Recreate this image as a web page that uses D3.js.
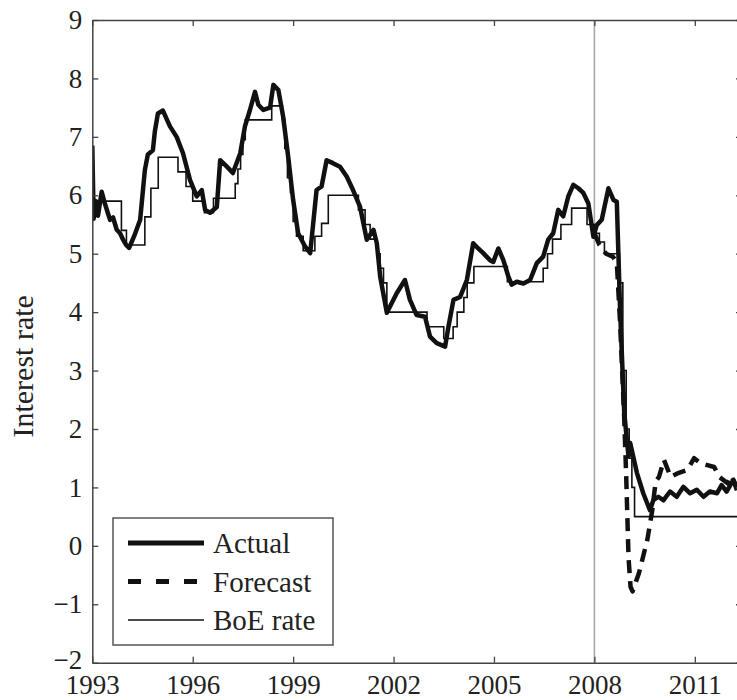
<!DOCTYPE html>
<html>
<head>
<meta charset="utf-8">
<script src="https://cdn.jsdelivr.net/npm/d3@7"></script>
<style>
html,body{margin:0;padding:0;background:#fff;overflow:hidden;}
svg{display:block;}
</style>
</head>
<body>
<svg id="chart" width="737" height="700"></svg>
<script>
// ---- data ----
const xTickYears = [1993, 1996, 1999, 2002, 2005, 2008, 2011];
const yTickValues = [-2, -1, 0, 1, 2, 3, 4, 5, 6, 7, 8, 9];
const seriesNames = ["Actual", "Forecast", "BoE rate"];

const actualDates = [1993.00,1993.04,1993.11,1993.17,1993.28,1993.38,1993.53,1993.62,1993.73,1993.83,1993.92,1994.01,1994.10,1994.25,1994.43,1994.57,1994.66,1994.81,1994.87,1994.96,1995.11,1995.32,1995.52,1995.71,1995.92,1996.12,1996.27,1996.37,1996.52,1996.72,1996.82,1997.02,1997.20,1997.42,1997.56,1997.71,1997.86,1997.96,1998.11,1998.31,1998.41,1998.56,1998.70,1998.85,1999.00,1999.15,1999.36,1999.51,1999.60,1999.70,1999.85,2000.00,2000.19,2000.40,2000.60,2000.79,2001.00,2001.20,2001.40,2001.50,2001.60,2001.80,2002.09,2002.34,2002.49,2002.69,2002.94,2003.09,2003.29,2003.54,2003.64,2003.79,2003.99,2004.19,2004.38,2004.53,2004.68,2004.88,2004.98,2005.13,2005.28,2005.43,2005.53,2005.68,2005.88,2006.08,2006.28,2006.47,2006.62,2006.77,2006.92,2007.07,2007.22,2007.37,2007.52,2007.67,2007.82,2007.97,2008.07,2008.22,2008.42,2008.57,2008.67,2008.77,2008.89,2008.97,2009.02,2009.07,2009.27,2009.46,2009.66,2009.76,2009.91,2010.06,2010.26,2010.46,2010.66,2010.86,2011.06,2011.26,2011.45,2011.66,2011.80,2011.95,2012.15,2012.26];
const actualValues = [6.85,5.60,5.90,5.65,6.06,5.85,5.58,5.62,5.41,5.35,5.24,5.15,5.10,5.30,5.58,6.43,6.70,6.77,7.10,7.40,7.45,7.18,7.00,6.72,6.26,5.98,6.09,5.75,5.70,5.80,6.60,6.49,6.38,6.72,7.18,7.46,7.77,7.55,7.46,7.50,7.89,7.80,7.35,6.67,5.92,5.35,5.12,5.01,5.52,6.09,6.15,6.60,6.55,6.49,6.32,6.09,5.80,5.24,5.41,5.18,4.61,3.99,4.32,4.55,4.21,3.95,3.92,3.58,3.47,3.41,3.75,4.21,4.26,4.55,5.18,5.09,5.01,4.89,4.86,5.09,4.89,4.61,4.47,4.52,4.49,4.55,4.84,4.95,5.24,5.35,5.75,5.64,5.98,6.18,6.12,6.04,5.86,5.29,5.49,5.58,6.12,5.92,5.89,4.00,2.30,1.81,1.53,1.76,1.25,0.90,0.61,0.78,0.84,0.78,0.93,0.84,1.01,0.90,0.96,0.84,0.93,0.90,1.04,0.93,1.13,1.00];

const forecastDates = [2008.00,2008.15,2008.35,2008.55,2008.67,2008.77,2008.89,2008.95,2009.02,2009.08,2009.14,2009.33,2009.58,2009.73,2009.83,2009.93,2010.08,2010.28,2010.48,2010.78,2010.98,2011.18,2011.58,2011.73,2011.98,2012.10,2012.26];
const forecastValues = [5.35,5.15,5.00,4.95,4.85,3.80,2.20,1.20,-0.20,-0.70,-0.78,-0.47,0.10,0.61,1.10,1.18,1.47,1.18,1.24,1.30,1.50,1.41,1.35,1.18,1.07,1.20,0.95];

const boeDates = [1993.00,1993.87,1994.02,1994.57,1994.75,1994.97,1995.56,1995.80,1996.00,1996.35,1996.62,1997.27,1997.35,1997.43,1997.50,1997.57,1998.36,1998.68,1998.75,1998.83,1998.92,1999.00,1999.10,1999.30,1999.65,1999.85,2000.05,2000.95,2001.15,2001.30,2001.50,2001.60,2001.70,2001.80,2003.00,2003.50,2003.78,2003.90,2004.10,2004.20,2004.40,2005.40,2006.47,2006.60,2006.75,2007.00,2007.32,2007.78,2008.00,2008.15,2008.30,2008.75,2008.85,2008.95,2009.04,2009.12,2009.20,2012.41];
const boeRates = [5.90,5.40,5.15,5.63,6.12,6.65,6.40,6.15,5.90,5.70,5.95,6.20,6.45,6.70,6.95,7.29,7.53,7.30,6.80,6.30,6.05,5.55,5.30,5.05,5.30,5.52,6.00,5.75,5.50,5.25,5.00,4.75,4.50,4.00,3.75,3.55,3.75,4.00,4.25,4.50,4.78,4.52,4.75,5.00,5.25,5.50,5.78,5.50,5.35,5.20,5.00,4.50,3.00,2.00,1.50,1.00,0.50,0.50];

const forecastStartYear = 2008;

(function () {
  const FONT = '"Liberation Serif", "DejaVu Serif", "Noto Serif", serif';
  // ---- layout ----
  const svg = d3.select("#chart");
  const pL = 92.3, pR = 742, pT = 20, pB = 662.7;
  const x = d3.scaleLinear().domain([1993, 2012.41]).range([pL, pR]);
  const y = d3.scaleLinear().domain([-2, 9]).range([pB, pT]);
  const axisColor = "#444";
  const fontSize = 27;

  svg.append("defs").append("clipPath").attr("id", "plotclip")
    .append("rect").attr("x", pL).attr("y", pT).attr("width", pR - pL).attr("height", pB - pT);

  // vertical marker at forecast start
  svg.append("line")
    .attr("x1", x(forecastStartYear)).attr("x2", x(forecastStartYear))
    .attr("y1", pT).attr("y2", pB)
    .attr("stroke", "#a8a8a8").attr("stroke-width", 1.6);

  const plot = svg.append("g").attr("clip-path", "url(#plotclip)");

  const lineGen = d3.line().x(d => x(d[0])).y(d => y(d[1]));
  const stepGen = d3.line().x(d => x(d[0])).y(d => y(d[1])).curve(d3.curveStepAfter);

  const boe = boeDates.map((d, i) => [d, boeRates[i]]);
  const actual = actualDates.map((d, i) => [d, actualValues[i]]);
  const forecast = forecastDates.map((d, i) => [d, forecastValues[i]]);

  plot.append("path").datum(boe).attr("d", stepGen)
    .attr("fill", "none").attr("stroke", "#111").attr("stroke-width", 1.6);
  plot.append("path").datum(forecast).attr("d", lineGen)
    .attr("fill", "none").attr("stroke", "#111").attr("stroke-width", 4.5)
    .attr("stroke-dasharray", "13,8").attr("stroke-linejoin", "round");
  plot.append("path").datum(actual).attr("d", lineGen)
    .attr("fill", "none").attr("stroke", "#111").attr("stroke-width", 4.5)
    .attr("stroke-linejoin", "round");

  // ---- axes ----
  const tickLen = 6;
  const gBottom = svg.append("g").attr("transform", `translate(0,${pB})`)
    .call(d3.axisBottom(x).tickValues(xTickYears).tickSizeInner(-tickLen).tickSizeOuter(0).tickPadding(12).tickFormat(d3.format("d")));
  const gTop = svg.append("g").attr("transform", `translate(0,${pT})`)
    .call(d3.axisTop(x).tickValues(xTickYears).tickSizeInner(-tickLen).tickSizeOuter(0).tickFormat(""));
  const gLeft = svg.append("g").attr("transform", `translate(${pL},0)`)
    .call(d3.axisLeft(y).tickValues(yTickValues).tickSizeInner(-tickLen).tickSizeOuter(0).tickPadding(10));
  const gRight = svg.append("g").attr("transform", `translate(${pR},0)`)
    .call(d3.axisRight(y).tickValues(yTickValues).tickSizeInner(-tickLen).tickSizeOuter(0).tickFormat(""));

  [gBottom, gTop, gLeft, gRight].forEach(g => {
    g.attr("font-family", FONT).attr("font-size", fontSize);
    g.select(".domain").attr("stroke", axisColor).attr("stroke-width", 1.5);
    g.selectAll(".tick line").attr("stroke", axisColor).attr("stroke-width", 1.3);
    g.selectAll(".tick text").attr("fill", "#222");
  });
  // lift the lowest y label slightly so it clears the first year label
  gLeft.selectAll(".tick text").filter(d => d === -2).attr("dy", "0.2em");

  // y label
  svg.append("text")
    .attr("transform", `translate(33,${(pT + pB) / 2 + 25}) rotate(-90)`)
    .attr("text-anchor", "middle")
    .attr("font-family", FONT).attr("font-size", 30).attr("fill", "#222")
    .text("Interest rate");

  // ---- legend ----
  const lg = svg.append("g");
  lg.append("rect").attr("x", 113).attr("y", 518).attr("width", 220).attr("height", 127)
    .attr("fill", "#fff").attr("stroke", "#555").attr("stroke-width", 1.5);
  const legendStyles = [
    {w: 5, dash: null},
    {w: 5, dash: "13,15"},
    {w: 1.6, dash: null}
  ];
  const rowY = [543, 581.5, 620];
  seriesNames.forEach((name, i) => {
    const ln = lg.append("line").attr("x1", 128).attr("x2", 204)
      .attr("y1", rowY[i]).attr("y2", rowY[i])
      .attr("stroke", "#111").attr("stroke-width", legendStyles[i].w);
    if (legendStyles[i].dash) ln.attr("stroke-dasharray", legendStyles[i].dash);
    lg.append("text").attr("x", 213).attr("y", rowY[i]).attr("dy", "0.35em")
      .attr("font-family", FONT).attr("font-size", 29).attr("fill", "#222")
      .text(name);
  });
})();
</script>
</body>
</html>
